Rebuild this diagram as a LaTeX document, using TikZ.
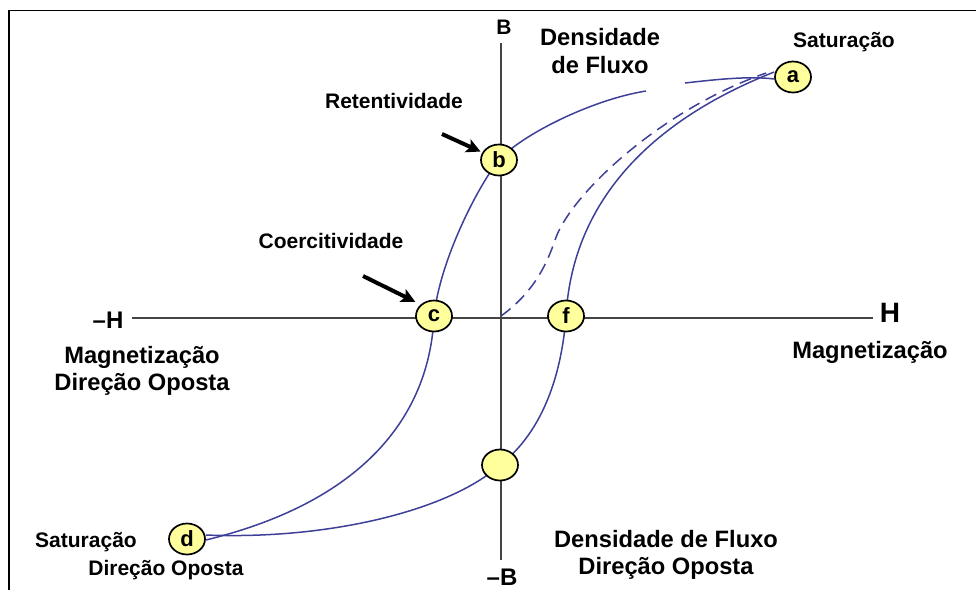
\documentclass[tikz,border=0pt]{standalone}
\usepackage{fontspec}
\setmainfont{Liberation Sans}
\usetikzlibrary{shapes.geometric,arrows.meta,backgrounds}
\definecolor{loopblue}{RGB}{62,64,152}
\definecolor{ptfill}{RGB}{255,255,155}
\definecolor{axisgray}{RGB}{68,68,68}
\begin{document}
\begin{tikzpicture}[x=1pt,y=-1pt,
  lbl/.style={font=\bfseries\fontsize{21}{25}\selectfont, anchor=base, inner sep=0},
  big/.style={font=\bfseries\fontsize{23.7}{28}\selectfont, anchor=base, inner sep=0},
  axl/.style={font=\bfseries\fontsize{#1}{#1}\selectfont, inner sep=0},
  pt/.style={ellipse, draw=black, line width=1.7pt, fill=ptfill, minimum width=36pt, minimum height=31pt, inner sep=0, font=\bfseries\fontsize{22}{26}\selectfont},
  loopline/.style={draw=loopblue, line width=1.5pt},
  axisline/.style={draw=axisgray, line width=2pt},
  pointer/.style={line width=4pt, -{Stealth[length=14pt,width=14pt,inset=3pt]}}]
\useasboundingbox (0,0) rectangle (976,590);
% frame
\draw[line width=1.5pt] (9,590) -- (9,10.5) -- (976,10.5);
% points
\node[pt] (a) at (793,77) {a};
\node[pt] (b) at (499,160) {b};
\node[pt] (c) at (434,316) {c};
\node[pt] (f) at (566,316) {f};
\node[pt] (e) at (500,465) {};
\node[pt] (d) at (187,539) {d};
% axis labels
\node[axl=21] (B) at (504,27) {B};
\node[axl=24] (mB) at (502,577) {–B};
\node[axl=28] (H) at (890,313) {H};
\node[axl=24] (mH) at (108,320) {–H};
\coordinate (Btop) at (501,43);
\coordinate (Bbot) at (501,560);
\coordinate (Hleft) at (132,318);
\coordinate (Hright) at (873,318);
\coordinate (gapR) at (685,83);
\coordinate (gapL) at (646,91);
\coordinate (o) at (501,316);
\coordinate (dm) at (555,240);
\begin{pgfonlayer}{background}
\draw[axisline] (Btop) -- (Bbot);
\draw[axisline] (Hleft) -- (Hright);
% upper (descending) branch
\draw[loopline] ([yshift=-2pt]a.west) .. controls (750,76) and (720,79) .. (gapR);
\draw[loopline] (gapL) .. controls (590,100) and (520,136) .. (b.center)
  .. controls (478,186) and (440,260) .. (c.center)
  .. controls (430,410) and (370,500) .. ([yshift=-1pt]d.east);
% lower (ascending) branch
\draw[loopline] ([yshift=4pt]d.east) .. controls (330,540) and (450,510) .. (e.center)
  .. controls (545,430) and (562,370) .. (f.center)
  .. controls (572,210) and (640,125) .. ([yshift=5pt]a.west);
% initial magnetisation curve
\draw[loopline, dash pattern=on 12pt off 7pt] (o) .. controls (530,295) and (545,270) .. (dm)
  .. controls (570,195) and (660,110) .. ([shift={(-8pt,4pt)}]a.west);
\end{pgfonlayer}
% pointers
\coordinate (rt) at (442,134);
\coordinate (ct) at (363,276);
\draw[pointer, shorten >=2pt] (rt) -- (b);
\draw[pointer, shorten >=6pt] (ct) -- (c.north west);
% texts
\node[big] (t1) at (600,45) {Densidade};
\node[big] (t2) at (600,73) {de Fluxo};
\node[lbl] (sat) at (844,47) {Saturação};
\node[lbl] (ret) at (394,108) {Retentividade};
\node[lbl] (coe) at (331,248) {Coercitividade};
\node[big] (m1) at (142,363) {Magnetização};
\node[big] (m2) at (142,390) {Direção Oposta};
\node[big] (mr) at (870,358) {Magnetização};
\node[big] (d1) at (666,547) {Densidade de Fluxo};
\node[big] (d2) at (666,574) {Direção Oposta};
\node[lbl] (sat2) at (86,547) {Saturação};
\node[lbl] (dop) at (166,575) {Direção Oposta};
\end{tikzpicture}
\end{document}
